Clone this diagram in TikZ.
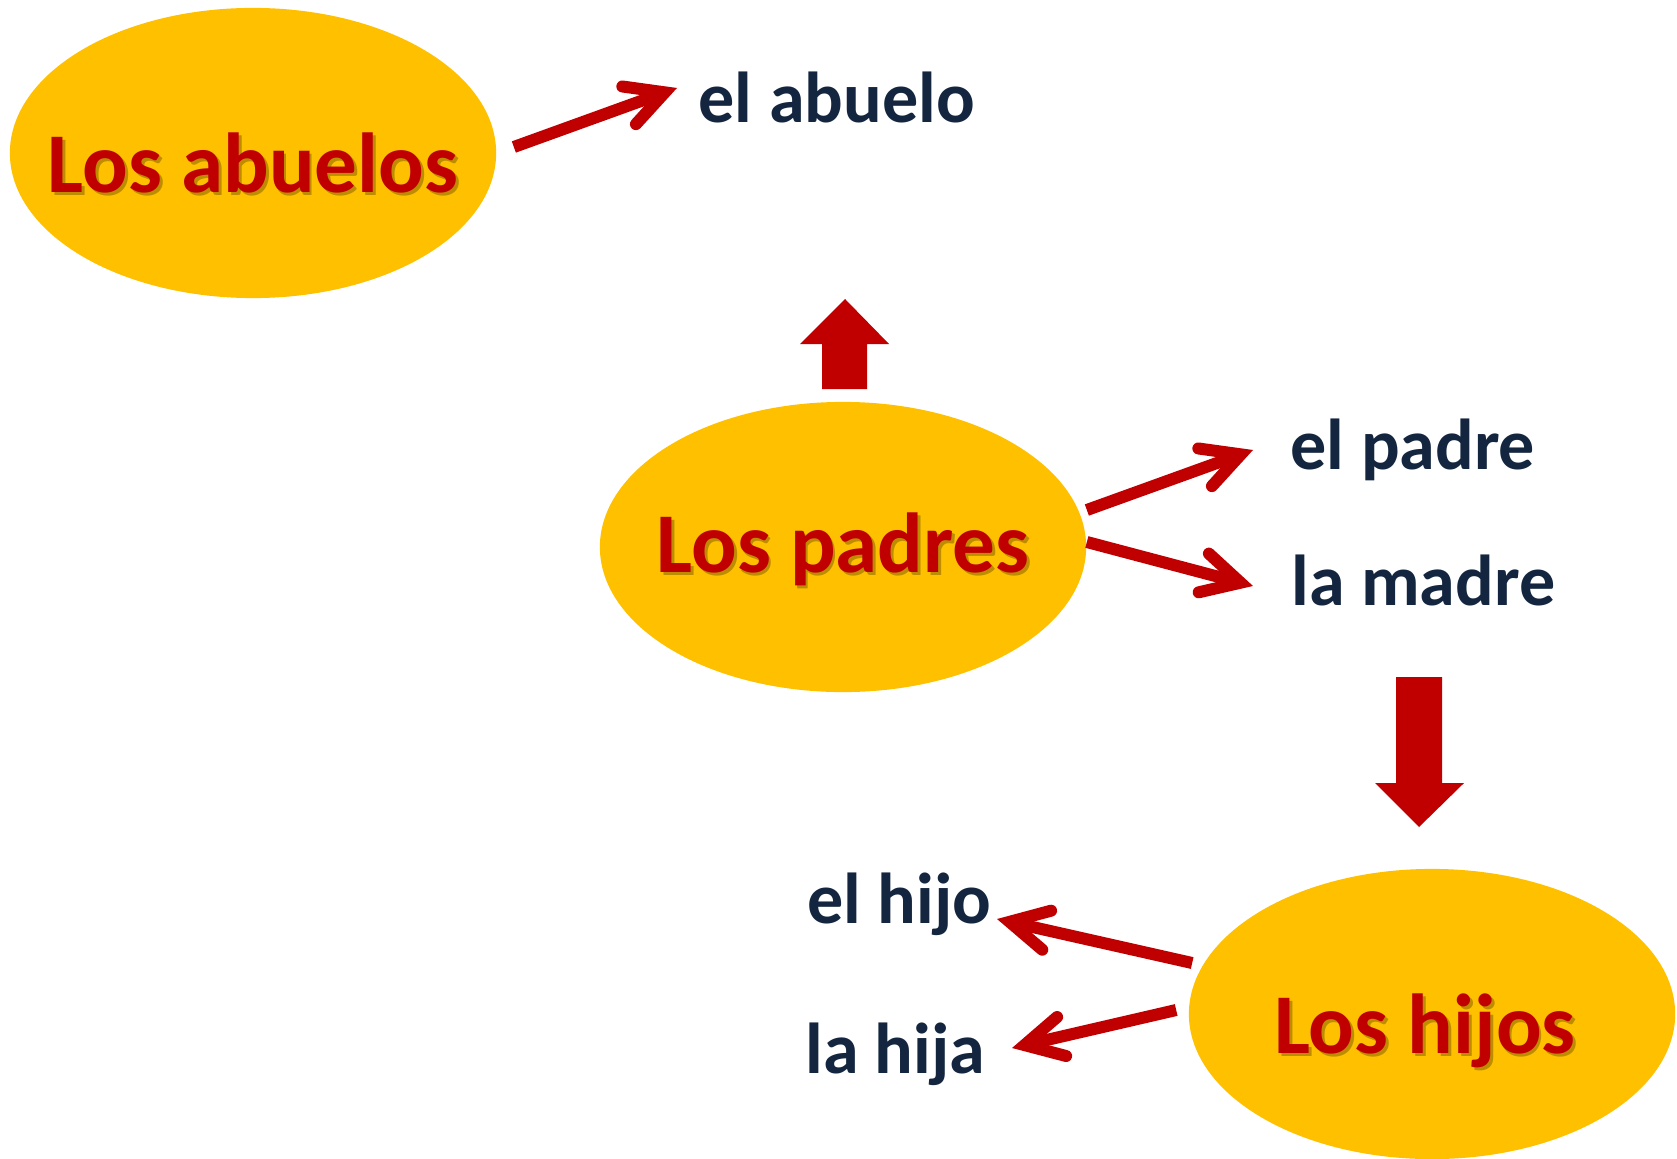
\documentclass[tikz,border=0pt]{standalone}
\usepackage{fontspec}
\setmainfont{Carlito}
\usepackage{tikz}
\usetikzlibrary{arrows.meta,shapes.geometric}
\definecolor{oro}{HTML}{FFC000}
\definecolor{rojo}{HTML}{C00000}
\definecolor{marino}{HTML}{14263F}
\definecolor{sombra}{HTML}{BE8C00}
\newcommand{\generacion}[1]{\makebox[0pt]{\rlap{\kern0.8pt\raisebox{-0.9pt}{\color{sombra}#1}}#1}}

\begin{document}
\begin{tikzpicture}[x=0.01cm,y=-0.01cm,
  bubble/.style={ellipse,fill=oro,inner sep=0,minimum width=4.86cm,minimum height=2.9cm,
    text=rojo,font=\fontsize{24.2}{29}\selectfont\bfseries},
  word/.style={anchor=base west,inner sep=0,text height=0.5cm,text depth=0.15cm,
    text=marino,font=\fontsize{20.5}{24}\selectfont\bfseries},
  link/.style={rojo,line width=0.12cm,-{Straight Barb[length=0.38cm,width=0.4cm,line cap=round]}}]
\useasboundingbox (0,0) rectangle (1677,1158);

\node[bubble,text height=0.78cm,text depth=0cm] (1) at (253,153) {\generacion{Los abuelos}};
\node[word] (2) at (698,123) {el abuelo};

\node[bubble,text height=0.6cm,text depth=0.1cm] (3) at (843,547) {\generacion{Los padres}};
\node[word] (4) at (1290,469) {el padre};
\node[word] (5) at (1291,605) {la madre};

\node[bubble,text height=0.78cm,text depth=0cm] (6) at (1432,1014) {\generacion{Los hijos}\hspace*{0.14cm}};
\node[word,anchor=base east] (7) at (992,923) {el hijo};
\node[word,anchor=base east] (8) at (986,1073) {la hija};

\draw[link] ([shift={(17,-6)}]1.east) -- ([shift={(-21,-17.5)}]2.west);
\draw[link] ([shift={(0,-37)}]3.east) -- ([shift={(-37,-1.5)}]4.west);
\draw[link] ([shift={(0,-5)}]3.east) -- ([shift={(-38,-1.5)}]5.west);
\draw[link] ([shift={(4,-51)}]6.west) -- ([shift={(5,13.5)}]7.east);
\draw[link] ([shift={(-12,-4)}]6.west) -- ([shift={(26,-7.5)}]8.east);

\fill[rojo] (822,389) -- (822,344) -- (800,344) -- (845,299) -- (889,344) -- (867,344) -- (867,389) -- cycle;
\fill[rojo] (1396,677) -- (1442,677) -- (1442,783) -- (1464,783) -- (1419,827) -- (1375,783) -- (1396,783) -- cycle;

\end{tikzpicture}
\end{document}
